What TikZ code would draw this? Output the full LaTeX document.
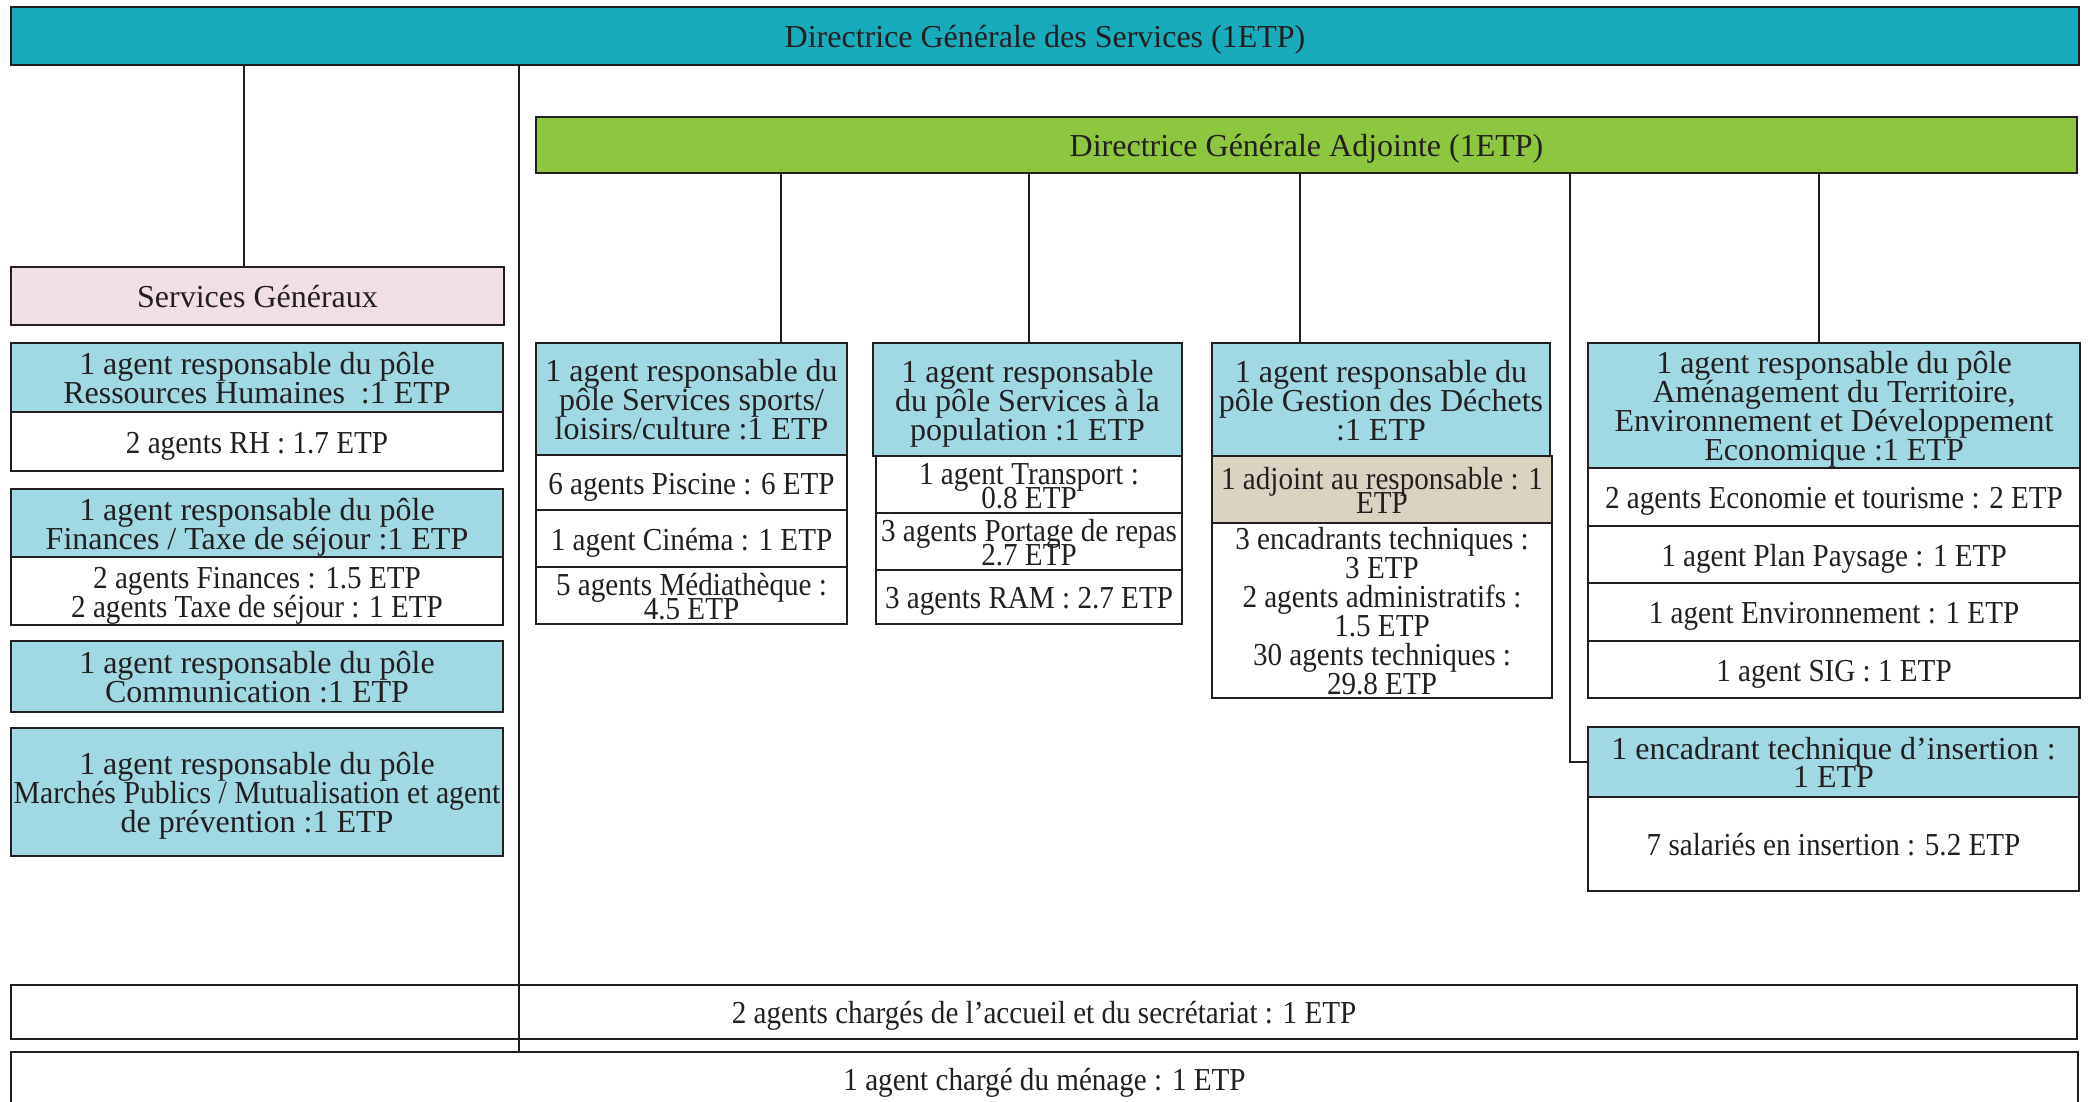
\documentclass[tikz,border=0pt]{standalone}
\usepackage{fontspec}
\setmainfont{Liberation Serif}
\definecolor{ink}{HTML}{231F20}
\definecolor{teal}{HTML}{18ABBB}
\definecolor{grn}{HTML}{8DC63F}
\definecolor{lblue}{HTML}{A0D9E3}
\definecolor{pinkish}{HTML}{F0DFE4}
\definecolor{tan}{HTML}{DBD3C1}
\tikzset{
  box/.style={draw=ink, line width=2.8pt, fill=white, inner sep=0pt},
  txt/.style={inner sep=0pt, align=center, text=ink, font={\fontsize{32}{29}\selectfont\lineskiplimit=-100pt}},
  hdr/.style={fill=lblue},
  tight/.style={font={\fontsize{32}{24}\selectfont\lineskiplimit=-100pt}},
  link/.style={draw=ink, line width=2.5pt}
}
% name, x1, y1, x2, y2, box style, text style, text
\newcommand{\bx}[8]{%
  \node[box,#6,minimum width={#4-#2},minimum height={#5-#3}] (#1) at ({(#2+#4)/2},{(#3+#5)/2}) {};
  \node[txt,#7] (#1-t) at ([yshift=-3.5pt]#1.center) {#8};}
\newcommand{\sr}{\rule[-8pt]{0pt}{32pt}}
\newcommand{\ta}[1]{\sr#1}
\newcommand{\tc}[1]{\sr\scalebox{0.91}[1]{#1}}
\newcommand{\tz}[2]{\sr\scalebox{#1}[1]{#2}}
\begin{document}
\begin{tikzpicture}[x=1pt,y=-1pt]
\useasboundingbox (0,0) rectangle (2089,1101);
\clip (0,0) rectangle (2089,1101);
% top
\bx{dgs}{11}{7}{2079}{65}{fill=teal}{}{\ta{Directrice Générale des Services (1ETP)}}
\bx{dga}{536}{117}{2077}{173}{fill=grn}{}{\ta{Directrice Générale Adjointe (1ETP)}}
% left column
\bx{sg}{11}{267}{504}{325}{fill=pinkish}{}{\ta{Services Généraux}}
\bx{rh}{11}{343}{503}{412}{hdr}{}{\ta{1 agent responsable du pôle}\\\ta{Ressources Humaines\ \ :1 ETP}}
\bx{rhs}{11}{412}{503}{471}{}{}{\tc{2 agents RH : 1.7 ETP}}
\bx{fin}{11}{489}{503}{557}{hdr}{}{\ta{1 agent responsable du pôle}\\\ta{Finances / Taxe de séjour :1 ETP}}
\bx{fins}{11}{557}{503}{625}{}{}{\tc{2 agents Finances : 1.5 ETP}\\\tc{2 agents Taxe de séjour : 1 ETP}}
\bx{com}{11}{641}{503}{712}{hdr}{}{\ta{1 agent responsable du pôle}\\\ta{Communication :1 ETP}}
\bx{mar}{11}{728}{503}{856}{hdr}{}{\ta{1 agent responsable du pôle}\\\tz{0.93}{Marchés Publics / Mutualisation et agent}\\\ta{de prévention :1 ETP}}
% sports
\bx{spo}{536}{343}{847}{455}{hdr}{}{\ta{1 agent responsable du}\\\ta{pôle Services sports/}\\\ta{loisirs/culture :1 ETP}}
\bx{pis}{536}{455}{847}{510}{}{}{\tc{6 agents Piscine : 6 ETP}}
\bx{cin}{536}{510}{847}{567}{}{}{\tc{1 agent Cinéma : 1 ETP}}
\bx{med}{536}{567}{847}{624}{}{tight}{\tc{5 agents Médiathèque :}\\\tc{4.5 ETP}}
% population
\bx{pop}{873}{343}{1182}{456}{hdr}{}{\ta{1 agent responsable}\\\ta{du pôle Services à la}\\\ta{population :1 ETP}}
\bx{tra}{876}{456}{1182}{513}{}{tight}{\tc{1 agent Transport :}\\\tc{0.8 ETP}}
\bx{por}{876}{513}{1182}{570}{}{tight}{\tc{3 agents Portage de repas}\\\tc{2.7 ETP}}
\bx{ram}{876}{570}{1182}{624}{}{}{\tc{3 agents RAM : 2.7 ETP}}
% dechets
\bx{dec}{1212}{343}{1550}{456}{hdr}{}{\ta{1 agent responsable du}\\\ta{pôle Gestion des Déchets}\\\ta{:1 ETP}}
\bx{adj}{1212}{456}{1552}{523}{fill=tan}{tight}{\tc{1 adjoint au responsable : 1}\\\tc{ETP}}
\bx{decs}{1212}{523}{1552}{698}{}{}{\tc{3 encadrants techniques :}\\\tc{3 ETP}\\\tc{2 agents administratifs :}\\\tc{1.5 ETP}\\\tc{30 agents techniques :}\\\tc{29.8 ETP}}
% amenagement
\bx{ame}{1588}{343}{2080}{468}{hdr}{}{\ta{1 agent responsable du pôle}\\\ta{Aménagement du Territoire,}\\\ta{Environnement et Développement}\\\ta{Economique :1 ETP}}
\bx{eco}{1588}{468}{2080}{526}{}{}{\tc{2 agents Economie et tourisme : 2 ETP}}
\bx{pla}{1588}{526}{2080}{583}{}{}{\tc{1 agent Plan Paysage : 1 ETP}}
\bx{env}{1588}{583}{2080}{641}{}{}{\tc{1 agent Environnement : 1 ETP}}
\bx{sig}{1588}{641}{2080}{698}{}{}{\tc{1 agent SIG : 1 ETP}}
% insertion
\bx{ins}{1588}{727}{2079}{797}{hdr}{font={\fontsize{32}{28}\selectfont\lineskiplimit=-100pt}}{\ta{1 encadrant technique d’insertion :}\\\ta{1 ETP}}
\bx{inss}{1588}{797}{2079}{891}{}{}{\tc{7 salariés en insertion : 5.2 ETP}}
% bottom
\bx{acc}{11}{985}{2077}{1039}{}{}{\tc{2 agents chargés de l’accueil et du secrétariat : 1 ETP}}
\bx{men}{11}{1052}{2078}{1106}{}{}{\tc{1 agent chargé du ménage : 1 ETP}}
% connectors
\draw[link] (dgs.south -| 244,0) -- (sg.north -| 244,0);
\draw[link] (dgs.south -| 519,0) -- (men.north -| 519,0);
\draw[link] (dga.south -| 781,0) -- (spo.north -| 781,0);
\draw[link] (dga.south -| 1029,0) -- (pop.north -| 1029,0);
\draw[link] (dga.south -| 1300,0) -- (dec.north -| 1300,0);
\draw[link] (dga.south -| 1819,0) -- (ame.north -| 1819,0);
\draw[link] (dga.south -| 1570,0) |- (ins.west |- 0,762);
\end{tikzpicture}
\end{document}
